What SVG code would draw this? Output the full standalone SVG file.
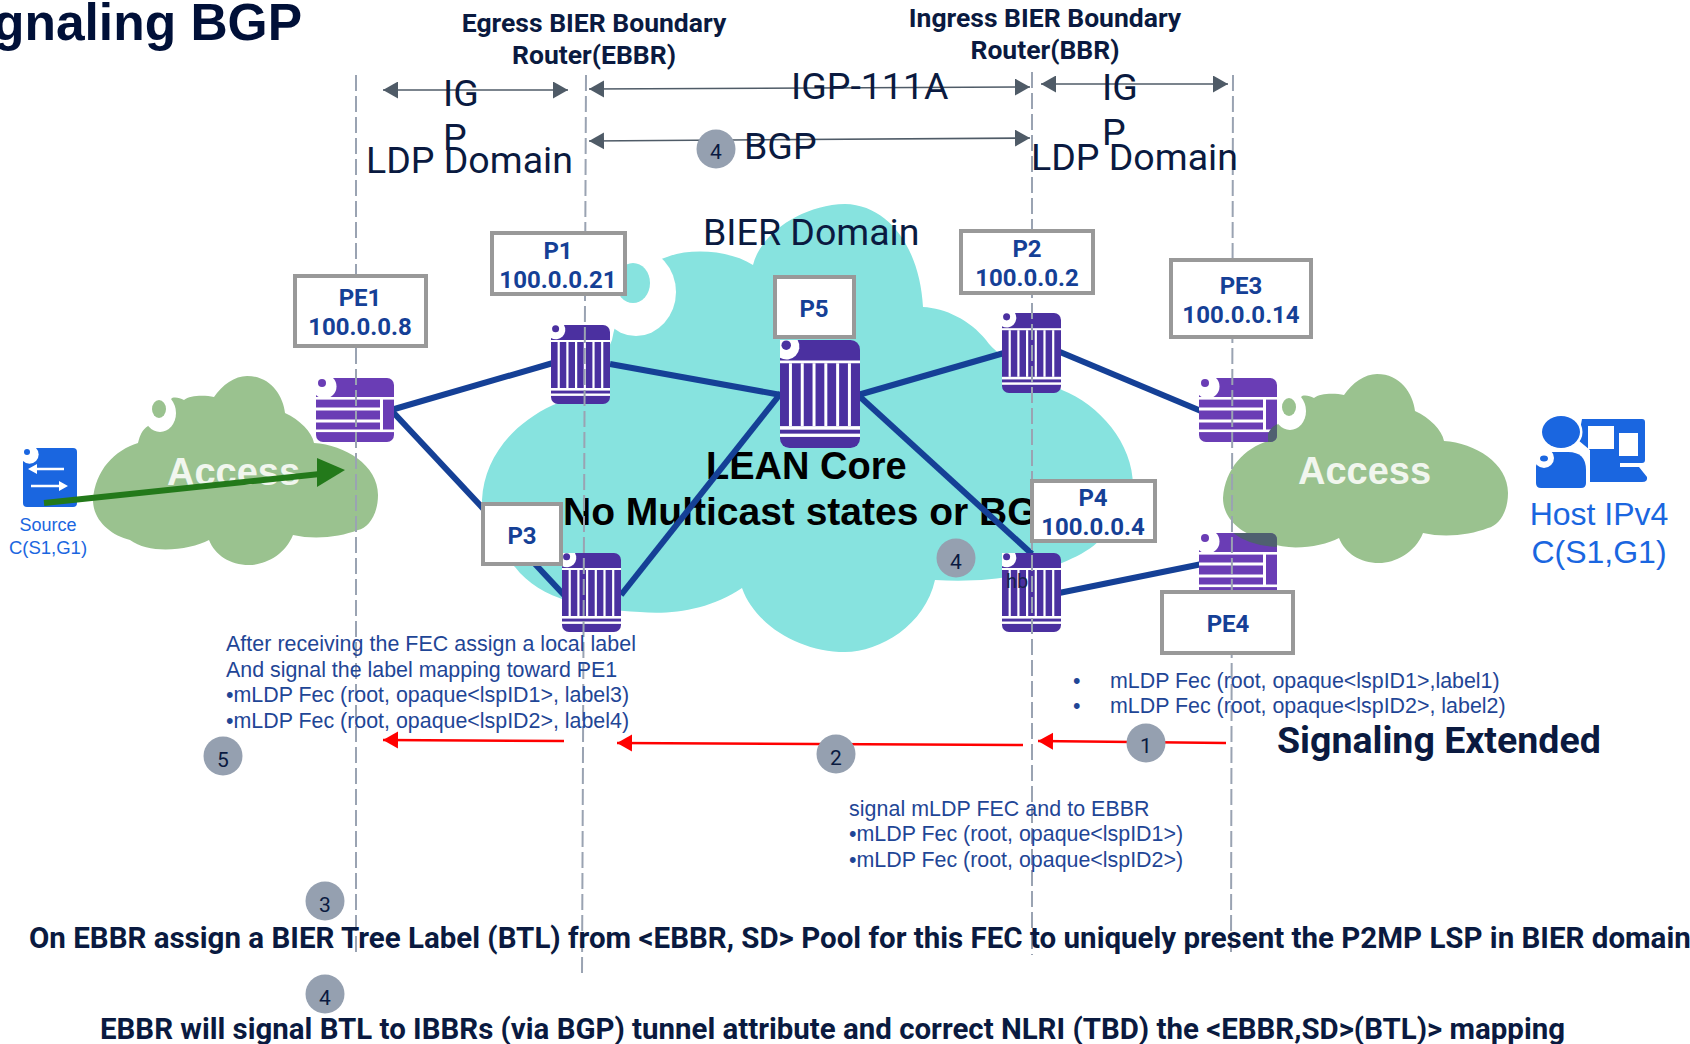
<svg xmlns="http://www.w3.org/2000/svg" xmlns:xlink="http://www.w3.org/1999/xlink" width="1690" height="1044" viewBox="0 0 1690 1044">
<style>
text{font-family:Roboto,"Liberation Sans",sans-serif}
.hd{font-size:26.5px;font-weight:700;fill:#0a1a40;text-anchor:middle}
.big{font-size:37.5px;fill:#0a1a40}
.bb{font-size:37.5px;font-weight:700;fill:#0a1a40}
.core{font-family:"Liberation Sans",sans-serif;font-size:38px;font-weight:700;fill:#000}
.acc{font-family:"Liberation Sans",sans-serif;font-size:38px;font-weight:700;fill:#f1f6ee}
.lab{font-size:24px;font-weight:700;fill:#154096;text-anchor:middle}
.box{fill:#fff;stroke:#999;stroke-width:4}
.info{font-family:"Liberation Sans",sans-serif;font-size:21.4px;fill:#1f4696}
.wide{letter-spacing:.05px}
.bot{font-size:29.5px;font-weight:700;fill:#0a1a40}
.num{font-size:21px;fill:#0a1a40;text-anchor:middle}
.nc{fill:#95a0b0}
.dash{stroke:#9aa3b2;stroke-width:2;stroke-dasharray:16 5;fill:none}
.link{stroke:#154096;stroke-width:6;fill:none}
.dim{stroke:#4f5b67;stroke-width:1.6;fill:none;marker-end:url(#ga);marker-start:url(#gs)}
.red{stroke:#f00;stroke-width:2.6;fill:none;marker-end:url(#ra)}
.src{font-family:"Liberation Sans",sans-serif;fill:#1a66e0;text-anchor:middle}
</style>
<defs>
<marker id="ga" markerUnits="userSpaceOnUse" markerWidth="16" markerHeight="18" refX="15" refY="8.5" orient="auto"><path d="M0 0L15 8.5L0 17Z" fill="#4f5b67"/></marker>
<marker id="gs" markerUnits="userSpaceOnUse" markerWidth="16" markerHeight="18" refX="1" refY="8.5" orient="auto"><path d="M16 0L1 8.5L16 17Z" fill="#4f5b67"/></marker>
<marker id="ra" markerUnits="userSpaceOnUse" markerWidth="16" markerHeight="18" refX="15" refY="8.5" orient="auto"><path d="M0 0L15 8.5L0 17Z" fill="#f00"/></marker>
<symbol id="sp" viewBox="0 0 59 79" preserveAspectRatio="none">
<rect width="59" height="79" rx="7" fill="#4b30a0"/>
<g fill="#fff"><rect y="15" width="59" height="2"/><rect y="63" width="59" height="2.6"/><rect y="68.500" width="59" height="2.4"/>
<rect x="6.6" y="17" width="2.2" height="46"/><rect x="15.3" y="17" width="2.2" height="46"/><rect x="24" y="17" width="2.2" height="46"/><rect x="32.700" y="17" width="2.2" height="46"/><rect x="41.4" y="17" width="2.2" height="46"/><rect x="50.1" y="17" width="2.2" height="46"/>
<path d="M0 0H13A9.5 9.5 0 0 1 0 13Z"/></g>
<circle cx="4.6" cy="3.8" r="3.5" fill="#4b30a0"/>
</symbol>
<symbol id="se" viewBox="0 0 78 64" preserveAspectRatio="none">
<rect width="78" height="64" rx="7" fill="#6a3db5"/>
<g fill="#fff"><rect y="19" width="78" height="2.6"/><rect y="29.500" width="64" height="3"/><rect y="41.500" width="64" height="3"/><rect y="51.500" width="78" height="2.6"/>
<rect x="64" y="19" width="3" height="33"/>
<path d="M0 0H17A11.5 11.5 0 0 1 0 17Z"/></g>
<circle cx="6" cy="5" r="4" fill="#6a3db5"/>
</symbol>
<path id="cl" d="M93 500C95 470 115 450 138 443C140 435 142 430 148 426L172 398C176 397 180 398 184 400C190 395 205 395 214 397C222 385 235 376 247 376C270 376 283 395 285 413C300 420 312 432 314 443C345 445 378 465 378 495C378 515 368 528 358 530C340 537 315 540 293 535C285 555 265 565 249 565C230 565 215 555 209 540C190 550 150 555 130 540C110 535 93 520 93 500Z"/>
</defs>
<rect width="1690" height="1044" fill="#fff"/>
<g id="cloud-core">
<path fill="#87e3df" d="M482 500C484 460 510 425 553 405C575 398 600 370 612 340C620 300 640 265 667 257C690 248 730 250 753 265C760 235 800 205 845 204C890 205 920 250 923 307C945 308 970 320 986 340C1000 360 1030 370 1062 390C1100 405 1135 445 1133 490C1130 520 1110 535 1100 540C1075 565 1010 585 935 580C925 625 880 652 845 652C800 652 755 625 742 588C710 610 670 615 640 612C590 610 540 600 515 567C495 550 482 525 482 500Z"/>
<ellipse cx="636" cy="292" rx="40" ry="44" fill="#fff"/>
<ellipse cx="633" cy="283" rx="17" ry="20" fill="#87e3df"/>
</g>
<g id="cloud-left"><use href="#cl" fill="#9ac28f"/><ellipse cx="160" cy="413" rx="16" ry="19" fill="#fff"/><ellipse cx="159" cy="409" rx="7" ry="9" fill="#9ac28f"/></g>
<g id="cloud-right" transform="translate(1130,-2)"><use href="#cl" fill="#9ac28f"/><ellipse cx="160" cy="413" rx="16" ry="19" fill="#fff"/><ellipse cx="159" cy="409" rx="7" ry="9" fill="#9ac28f"/></g>
<g id="texts-back">
<text class="big" x="703" y="245">BIER Domain</text>
<text class="core" x="706" y="479">LEAN Core</text>
<text class="core" x="563" y="525" style="font-size:39px">No Multicast states or BG</text>
<text class="acc" x="167" y="485">Access</text>
<text class="acc" x="1298" y="484">Access</text>
</g>
<g id="connectors">
<path class="link" d="M391 410L553 363"/>
<path class="link" d="M610 364L781 395"/>
<path class="link" d="M391 410L564 595"/>
<path class="link" d="M621 595L781 393"/>
<path class="link" d="M858 395L1004 353"/>
<path class="link" d="M1060 352L1201 411"/>
<path class="link" d="M858 395L1032 554"/>
<path class="link" d="M1059 593L1202 564"/>
</g>
<g id="node-PE1"><use href="#se" x="316" y="378" width="78" height="64"/></g>
<g id="node-P1"><use href="#sp" x="551" y="325" width="59" height="79"/></g>
<g id="node-P5"><use href="#sp" x="780" y="340" width="80" height="108"/></g>
<g id="node-P2"><use href="#sp" x="1002" y="313" width="59" height="80"/></g>
<g id="node-P3"><use href="#sp" x="562" y="553" width="59" height="79"/></g>
<g id="node-P4"><use href="#sp" x="1002" y="553" width="59" height="79"/><text x="1006" y="588" font-size="20" fill="#1a2050">hb</text></g>
<g id="node-PE3"><use href="#se" x="1199" y="378" width="78" height="64"/><path fill="#4f6070" d="M1268 442H1270Q1277 442 1277 435V424Q1270 428 1268 434Z"/></g>
<g id="node-PE4"><use href="#se" x="1199" y="533" width="78" height="64"/><path fill="#4f6070" d="M1233 533Q1250 546 1277 547V540Q1277 533 1270 533Z"/></g>
<g id="dashes">
<path class="dash" d="M356 75V953"/>
<path class="dash" d="M586 75L582 975"/>
<path class="dash" d="M1032 72V955"/>
<path class="dash" d="M1233 75L1231 955"/>
</g>
<g id="label-boxes">
<rect class="box" x="295" y="276" width="131" height="70"/><text class="lab" x="360" y="306">PE1</text><text class="lab" x="360" y="335">100.0.0.8</text>
<rect class="box" x="492" y="233" width="133" height="61"/><text class="lab" x="558" y="259">P1</text><text class="lab" x="558" y="288">100.0.0.21</text>
<rect class="box" x="775" y="277" width="79" height="60"/><text class="lab" x="814" y="317">P5</text>
<rect class="box" x="961" y="231" width="132" height="62"/><text class="lab" x="1027" y="257">P2</text><text class="lab" x="1027" y="286">100.0.0.2</text>
<rect class="box" x="1171" y="260" width="140" height="77"/><text class="lab" x="1241" y="294">PE3</text><text class="lab" x="1241" y="323">100.0.0.14</text>
<rect class="box" x="1032" y="481" width="123" height="60"/><text class="lab" x="1093" y="506">P4</text><text class="lab" x="1093" y="535">100.0.0.4</text>
<rect class="box" x="483" y="504" width="78" height="60"/><text class="lab" x="522" y="544">P3</text>
<rect class="box" x="1162" y="592" width="131" height="61"/><text class="lab" x="1228" y="632">PE4</text>
</g>
<g id="arrows">
<path class="dim" d="M383 90H568"/>
<path class="dim" d="M589 89L1030 87"/>
<path class="dim" d="M589 141L1030 138"/>
<path class="dim" d="M1041 84H1228"/>
<path class="red" d="M1226 743L1038 741"/>
<path class="red" d="M1023 745L617 743"/>
<path class="red" d="M564 741L383 740"/>
</g>
<g id="texts">
<text x="302" y="40" font-size="51.500" font-weight="700" fill="#001038" text-anchor="end" style="font-family:'Liberation Sans',sans-serif">gnaling BGP</text>
<text class="hd" x="594" y="32">Egress BIER Boundary</text><text class="hd" x="594" y="64">Router(EBBR)</text>
<text class="hd" x="1045" y="27">Ingress BIER Boundary</text><text class="hd" x="1045" y="59">Router(BBR)</text>
<text class="big" x="791" y="99">IGP-111A</text>
<text class="big" x="443" y="106">IG</text><text class="big" x="443" y="150">P</text><text class="big" x="366" y="173">LDP Domain</text>
<text class="big" x="1102" y="100">IG</text><text class="big" x="1102" y="145">P</text><text class="big" x="1031" y="170">LDP Domain</text>
<text class="big" x="744" y="159">BGP</text>
<text class="src" x="48" y="531" font-size="18">Source</text><text class="src" x="48" y="554" font-size="18.5">C(S1,G1)</text>
<text class="src" x="1599" y="525" font-size="32">Host IPv4</text><text class="src" x="1599" y="563" font-size="32">C(S1,G1)</text>
<text class="info wide" x="226" y="651">After receiving the FEC assign a local label</text>
<text class="info" x="226" y="677">And signal the label mapping toward PE1</text>
<text class="info" x="226" y="702">•mLDP Fec (root, opaque&lt;lspID1&gt;, label3)</text>
<text class="info" x="226" y="728">•mLDP Fec (root, opaque&lt;lspID2&gt;, label4)</text>
<text class="info" x="1073" y="688">•</text><text class="info" x="1073" y="713">•</text>
<text class="info" x="1110" y="688">mLDP Fec (root, opaque&lt;lspID1&gt;,label1)</text>
<text class="info" x="1110" y="713">mLDP Fec (root, opaque&lt;lspID2&gt;, label2)</text>
<text class="info wide" x="849" y="816">signal mLDP FEC and to EBBR</text>
<text class="info" x="849" y="841">•mLDP Fec (root, opaque&lt;lspID1&gt;)</text>
<text class="info" x="849" y="867">•mLDP Fec (root, opaque&lt;lspID2&gt;)</text>
<text class="bb" x="1277" y="753">Signaling Extended</text>
<text class="bot" x="29" y="948">On EBBR assign a BIER Tree Label (BTL) from &lt;EBBR, SD&gt; Pool for this FEC to uniquely present the P2MP LSP in BIER domain</text>
<text class="bot" x="100" y="1039" style="font-size:29.45px">EBBR will signal BTL to IBBRs (via BGP) tunnel attribute and correct NLRI (TBD) the &lt;EBBR,SD&gt;(BTL)&gt; mapping</text>
</g>
<g id="steps">
<circle class="nc" cx="716" cy="149" r="19.5"/><text class="num" x="716" y="159">4</text>
<circle class="nc" cx="223" cy="756" r="19.5"/><text class="num" x="223" y="767">5</text>
<circle class="nc" cx="325" cy="901" r="19.5"/><text class="num" x="325" y="912">3</text>
<circle class="nc" cx="325" cy="994" r="19.5"/><text class="num" x="325" y="1005">4</text>
<circle class="nc" cx="836" cy="754" r="19.5"/><text class="num" x="836" y="765">2</text>
<circle class="nc" cx="956" cy="558" r="19.5"/><text class="num" x="956" y="569">4</text>
<circle class="nc" cx="1146" cy="743" r="19.5"/><text class="num" x="1146" y="753">1</text>
</g>
<g id="source">
<rect x="23" y="448" width="54" height="59" rx="4" fill="#1a66e0"/>
<path fill="#fff" d="M23 448H36A7 7 0 0 1 23 461Z"/><circle cx="27" cy="452" r="3" fill="#1a66e0"/>
<path d="M64 469H33M31 486H62" stroke="#fff" stroke-width="2.5"/><path fill="#fff" d="M28 469L37 464V474ZM68 486L59 481V491Z"/>
</g>
<g id="source-flow">
<path stroke="#23791a" stroke-width="6" fill="none" d="M44 503L320 474"/>
<path fill="#23791a" d="M345 470L317 458L317 487Z"/>
</g>
<g id="host" fill="#1a66e0">
<path d="M1582 419H1642Q1645 419 1645 422V460Q1645 463 1642 463H1620V467H1639L1647 477Q1648 482 1642 482H1590V450L1578 440Z"/>
<rect x="1588" y="426" width="26" height="23" fill="#fff"/><rect x="1619" y="433" width="19" height="23" fill="#fff"/>
<ellipse cx="1561" cy="432" rx="19" ry="16" stroke="#fff" stroke-width="5" paint-order="stroke"/>
<path d="M1536 466V483Q1536 488 1541 488H1581Q1586 488 1586 483V470Q1586 452 1568 452H1540Z" stroke="#fff" stroke-width="5" paint-order="stroke"/>
<circle cx="1544" cy="458" r="10" fill="#fff"/><ellipse cx="1544" cy="458.500" rx="4" ry="3"/>
</g>
</svg>
